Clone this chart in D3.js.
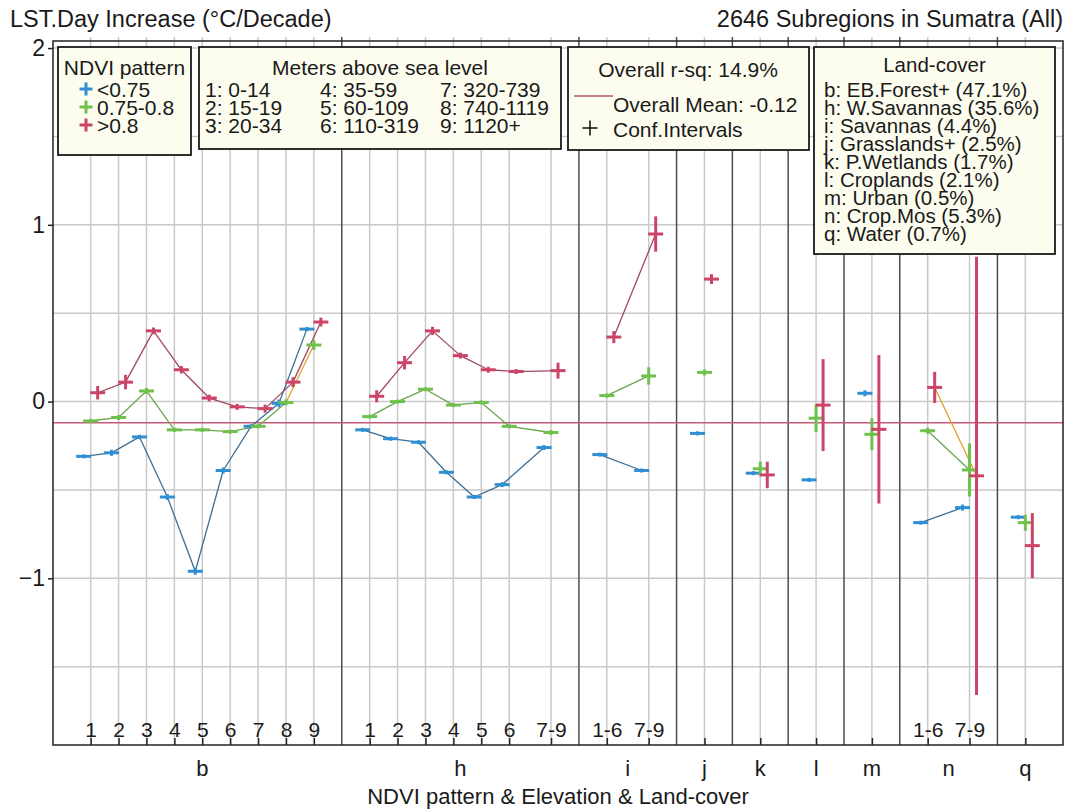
<!DOCTYPE html>
<html>
<head>
<meta charset="utf-8">
<script src="https://cdn.jsdelivr.net/npm/d3@7"></script>
<style>
  body { margin: 0; background: #fff; }
  svg { display: block; }
  text { font-family: "Liberation Sans", Arial, sans-serif; fill: #1a1a1a; }
</style>
</head>
<body>
<svg id="chart" width="1070" height="810"></svg>
<script>
// land-cover groups and their elevation bins
let groupNames = ['b', 'h', 'i', 'j', 'k', 'l', 'm', 'n', 'q'];
let groupBins = [
  ['1', '2', '3', '4', '5', '6', '7', '8', '9'],
  ['1', '2', '3', '4', '5', '6', '7-9'],
  ['1-6', '7-9'],
  [''],
  [''],
  [''],
  [''],
  ['1-6', '7-9'],
  ['']
];

let seriesNames = ['<0.75', '0.75-0.8', '>0.8'];

// means and half-widths of confidence intervals, in bin order
let lowMean = [
  -0.31, -0.29, -0.20, -0.54, -0.96, -0.39, -0.14, -0.01, 0.41,
  -0.16, -0.21, -0.23, -0.40, -0.54, -0.47, -0.26,
  -0.30, -0.39,
  -0.18,
  -0.405,
  -0.443,
  0.047,
  -0.685, -0.60,
  -0.654
];
let lowCI = [
  0.01, 0.017, 0.012, 0.017, 0.02, 0.017, 0.012, 0.022, 0.012,
  0.011, 0.011, 0.011, 0.011, 0.011, 0.014, 0.014,
  0.011, 0.011,
  0.011,
  0.011,
  0.008,
  0.017,
  0.011, 0.017,
  0.011
];
let midMean = [
  -0.11, -0.09, 0.06, -0.16, -0.16, -0.17, -0.14, -0.005, 0.32,
  -0.085, 0.0, 0.07, -0.02, -0.005, -0.14, -0.175,
  0.034, 0.145,
  0.165,
  -0.38,
  -0.094,
  -0.185,
  -0.165, -0.387,
  -0.685
];
let midCI = [
  0.012, 0.014, 0.017, 0.012, 0.009, 0.009, 0.012, 0.017, 0.028,
  0.011, 0.011, 0.011, 0.011, 0.011, 0.011, 0.014,
  0.011, 0.049,
  0.017,
  0.04,
  0.078,
  0.09,
  0.017, 0.15,
  0.045
];
let highMean = [
  0.05, 0.11, 0.40, 0.18, 0.02, -0.03, -0.04, 0.11, 0.45,
  0.03, 0.22, 0.40, 0.26, 0.18, 0.17, 0.175,
  0.365, 0.948,
  0.693,
  -0.415,
  -0.02,
  -0.157,
  0.08, -0.42,
  -0.815
];
let highCI = [
  0.038, 0.041, 0.019, 0.021, 0.019, 0.017, 0.023, 0.028, 0.025,
  0.034, 0.038, 0.023, 0.017, 0.017, 0.014, 0.045,
  0.034, 0.10,
  0.028,
  0.075,
  0.26,
  0.42,
  0.088, 1.24,
  0.184
];

// segments drawn in the odd orange colour: [series, group, first bin]
let highlightSegments = [[1, 'b', 7], [2, 'n', 0]];

let overallMean = -0.12;
let overallRsq = 14.9;
let subregionCount = 2646;

let yTicks = [-1, 0, 1, 2];
let yGrid = [-1.5, -1, -0.5, 0, 0.5, 1, 1.5, 2];

let elevationLabels = [
  '1: 0-14', '2: 15-19', '3: 20-34',
  '4: 35-59', '5: 60-109', '6: 110-319',
  '7: 320-739', '8: 740-1119', '9: 1120+'
];
let landcoverLabels = [
  'b: EB.Forest+ (47.1%)',
  'h: W.Savannas (35.6%)',
  'i: Savannas (4.4%)',
  'j: Grasslands+ (2.5%)',
  'k: P.Wetlands (1.7%)',
  'l: Croplands (2.1%)',
  'm: Urban (0.5%)',
  'n: Crop.Mos (5.3%)',
  'q: Water (0.7%)'
];

let colors = ['#2f8fd2', '#70c04e', '#cc4468'];
let lineColors = ['#3d6f96', '#6aa84a', '#a04860'];
let orange = '#e3a02c';
let font = '"Liberation Sans", Arial, sans-serif';

// ---- layout of the category axis ----
let bins = [];
let separators = [];
let pos = 0;
groupNames.forEach(function(g, gi) {
  groupBins[gi].forEach(function(label, k) {
    if (k > 0) pos += label.indexOf('-') >= 0 ? 1.5 : 1;
    bins.push({ group: g, label: label, slot: pos, k: k });
  });
  if (gi < groupNames.length - 1) {
    separators.push(pos + 1);
    pos += 2;
  }
});
bins.forEach(function(b, i) {
  b.values = [
    { m: lowMean[i], ci: lowCI[i] },
    { m: midMean[i], ci: midCI[i] },
    { m: highMean[i], ci: highCI[i] }
  ];
});

let margin = { left: 53, right: 1063, top: 41, bottom: 745 };

let x = d3.scaleLinear()
  .domain([bins[0].slot - 1.35, bins[bins.length - 1].slot + 1.35])
  .range([margin.left, margin.right]);

let y = d3.scaleLinear()
  .domain([-1.943, 2.04])
  .range([margin.bottom, margin.top]);

let dodge = d3.scalePoint()
  .domain([0, 1, 2])
  .range([-7, 7]);

let svg = d3.select('#chart');

svg.append('rect')
  .attr('width', 1070).attr('height', 810)
  .attr('fill', '#fff');

// grid
let grid = svg.append('g').attr('class', 'grid');
grid.selectAll('line.h')
  .data(yGrid)
  .enter().append('line')
  .attr('x1', margin.left).attr('x2', margin.right)
  .attr('y1', d => y(d)).attr('y2', d => y(d))
  .attr('stroke', '#c9c9c9').attr('stroke-width', 1.5);

grid.selectAll('line.v')
  .data(bins)
  .enter().append('line')
  .attr('x1', d => x(d.slot)).attr('x2', d => x(d.slot))
  .attr('y1', margin.top - 4).attr('y2', margin.bottom)
  .attr('stroke', '#c9c9c9').attr('stroke-width', 1.5);

grid.selectAll('line.sep')
  .data(separators)
  .enter().append('line')
  .attr('x1', d => x(d)).attr('x2', d => x(d))
  .attr('y1', margin.top - 4).attr('y2', margin.bottom)
  .attr('stroke', '#4e4e4e').attr('stroke-width', 1.5);

// overall mean
svg.append('line')
  .attr('x1', margin.left).attr('x2', margin.right)
  .attr('y1', y(overallMean)).attr('y2', y(overallMean))
  .attr('stroke', '#c75a78').attr('stroke-width', 1.5);

// frame
svg.append('rect')
  .attr('x', margin.left).attr('y', margin.top)
  .attr('width', margin.right - margin.left)
  .attr('height', margin.bottom - margin.top)
  .attr('fill', 'none')
  .attr('stroke', '#222').attr('stroke-width', 1.5);

// y axis
let yAxis = svg.append('g')
  .attr('transform', 'translate(' + margin.left + ',0)')
  .call(d3.axisLeft(y).tickValues(yTicks).tickSize(5).tickPadding(3).tickFormat(d3.format('d')));
yAxis.select('.domain').remove();
yAxis.selectAll('line').attr('stroke', '#222').attr('stroke-width', 1.5);
yAxis.selectAll('text').style('font-size', '23px').style('font-family', font).attr('fill', '#1a1a1a');

// bin axis, labels sit inside the plot
let xAxis = svg.append('g')
  .attr('transform', 'translate(0,' + margin.bottom + ')')
  .call(d3.axisTop(x)
    .tickValues(bins.map(d => d.slot))
    .tickSize(7)
    .tickPadding(1)
    .tickFormat(function(d, i) { return bins[i].label; }));
xAxis.select('.domain').remove();
xAxis.selectAll('line').attr('stroke', '#222').attr('stroke-width', 1.5);
xAxis.selectAll('text').style('font-size', '21px').style('font-family', font).attr('fill', '#1a1a1a');

// group labels
let groupInfo = groupNames.map(function(g) {
  let gb = bins.filter(b => b.group === g);
  return { name: g, mid: (gb[0].slot + gb[gb.length - 1].slot) / 2 };
});
svg.append('g').selectAll('text')
  .data(groupInfo)
  .enter().append('text')
  .attr('x', d => x(d.mid))
  .attr('y', 776)
  .attr('text-anchor', 'middle')
  .style('font-size', '22px')
  .text(d => d.name);

svg.append('text')
  .attr('x', (margin.left + margin.right) / 2)
  .attr('y', 804)
  .attr('text-anchor', 'middle')
  .style('font-size', '22px')
  .text('NDVI pattern & Elevation & Land-cover');

// titles
svg.append('text')
  .attr('x', 10).attr('y', 27)
  .style('font-size', '23.5px')
  .text('LST.Day Increase (\u00B0C/Decade)');

svg.append('text')
  .attr('x', margin.right).attr('y', 27)
  .attr('text-anchor', 'end')
  .style('font-size', '23.5px')
  .text(subregionCount + ' Subregions in Sumatra (All)');

// connecting lines within each group
let lineGen = d3.line()
  .x(d => d[0])
  .y(d => d[1]);

let lines = svg.append('g').attr('class', 'lines');
groupNames.forEach(function(g) {
  let gb = bins.filter(b => b.group === g);
  if (gb.length < 2) return;
  [0, 1, 2].forEach(function(s) {
    for (let k = 0; k < gb.length - 1; k++) {
      let hi = highlightSegments.some(h => h[0] === s && h[1] === g && h[2] === k);
      let pts = [gb[k], gb[k + 1]].map(b => [x(b.slot) + dodge(s), y(b.values[s].m)]);
      lines.append('path')
        .attr('d', lineGen(pts))
        .attr('fill', 'none')
        .attr('stroke', hi ? orange : lineColors[s])
        .attr('stroke-width', 1.3);
    }
  });
});

// markers: horizontal arm + confidence interval
let marks = svg.append('g').attr('class', 'marks');
[0, 1, 2].forEach(function(s) {
  let sel = marks.append('g').selectAll('g')
    .data(bins)
    .enter().append('g')
    .attr('transform', d => 'translate(' + (x(d.slot) + dodge(s)) + ',0)');
  sel.append('line')
    .attr('x1', -7.5).attr('x2', 7.5)
    .attr('y1', d => y(d.values[s].m)).attr('y2', d => y(d.values[s].m))
    .attr('stroke', colors[s]).attr('stroke-width', 3);
  sel.append('line')
    .attr('x1', 0).attr('x2', 0)
    .attr('y1', d => Math.min(y(d.values[s].m + d.values[s].ci), y(d.values[s].m) - 2))
    .attr('y2', d => Math.max(y(d.values[s].m - d.values[s].ci), y(d.values[s].m) + 2))
    .attr('stroke', colors[s]).attr('stroke-width', 3);
});

// ---- legends ----
function box(x0, y0, x1, y1) {
  svg.append('rect')
    .attr('x', x0).attr('y', y0)
    .attr('width', x1 - x0).attr('height', y1 - y0)
    .attr('fill', '#fdfdef')
    .attr('stroke', '#1a1a1a').attr('stroke-width', 1.8);
}
function label(tx, cy, str, size, anchor) {
  return svg.append('text')
    .attr('x', tx).attr('y', cy + size * 0.36)
    .attr('text-anchor', anchor || 'start')
    .style('font-size', size + 'px')
    .text(str);
}
function plus(cx, cy, half, color, w) {
  svg.append('line').attr('x1', cx - half).attr('x2', cx + half)
    .attr('y1', cy).attr('y2', cy).attr('stroke', color).attr('stroke-width', w);
  svg.append('line').attr('x1', cx).attr('x2', cx)
    .attr('y1', cy - half).attr('y2', cy + half).attr('stroke', color).attr('stroke-width', w);
}

// NDVI pattern
box(58, 47, 191, 155);
label(124.5, 67, 'NDVI pattern', 21, 'middle');
seriesNames.forEach(function(name, i) {
  plus(86, 89 + i * 18, 6.5, colors[i], 3);
  label(97, 89 + i * 18, name, 21);
});

// elevation bins
box(199, 47, 561, 149);
label(380, 67, 'Meters above sea level', 21, 'middle');
let colX = [205, 320, 440];
elevationLabels.forEach(function(t, i) {
  label(colX[Math.floor(i / 3)], 89 + (i % 3) * 18, t, 21);
});

// overall stats
box(568, 47, 809, 150);
label(688, 69, 'Overall r-sq: ' + overallRsq + '%', 21, 'middle');
svg.append('line')
  .attr('x1', 574).attr('x2', 613)
  .attr('y1', 96).attr('y2', 96)
  .attr('stroke', '#b4566e').attr('stroke-width', 1.5);
label(613, 104, 'Overall Mean: ' + overallMean, 21);
plus(590, 128, 7.5, '#1a1a1a', 1.6);
label(613, 129, 'Conf.Intervals', 21);

// land cover
box(814, 47, 1055, 254);
label(934.5, 65, 'Land-cover', 20.5, 'middle');
landcoverLabels.forEach(function(t, i) {
  label(824, 90 + i * 18, t, 20.5);
});
</script>
</body>
</html>
